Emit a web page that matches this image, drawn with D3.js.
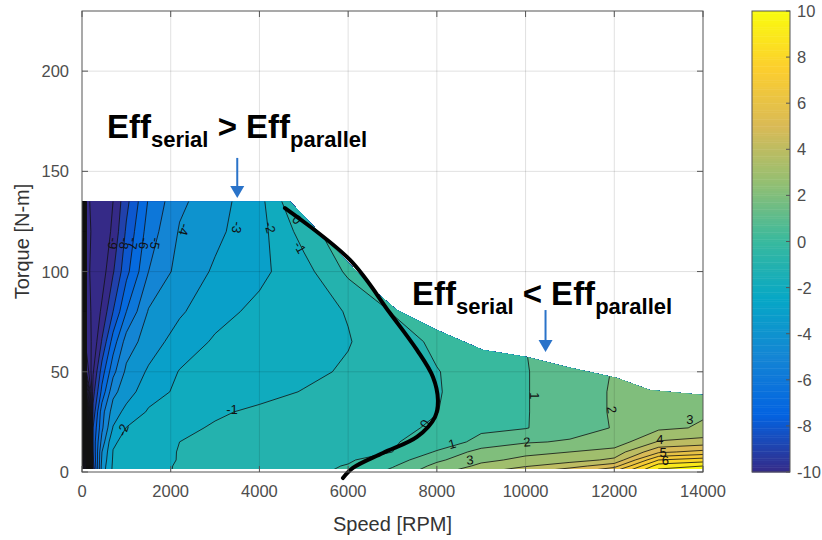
<!DOCTYPE html>
<html lang="en">
<head>
<meta charset="UTF-8" />
<script src="https://d3js.org/d3.v7.min.js"></script>
<title>Serial vs parallel efficiency</title>
<style>
  body { margin: 0; background: #fff; }
  text { font-family: "Liberation Sans", Arial, Helvetica, sans-serif; }
</style>
</head>
<body>
<script>
// grid: speed columns, torque rows, efficiency difference (serial - parallel, %)
var speeds = [0, 100, 250, 450, 700, 1000, 1500, 2200, 3000, 4000, 5000, 6000, 7000, 8000, 9000, 10000, 11000, 12000, 13000, 14000, 15000];
var torques = [0, 3, 6, 10, 15, 22, 30, 40, 50, 65, 80, 100, 120, 135, 150];
var effDiff = [
  [-50, -42, -9.0, -3.5, -1.8, -1.6, -1.3, -0.9, -0.65, -0.4, -0.2, 0.15, 1.3, 2.7, 3.9, 4.9, 5.8, 7.2, 10.5, 11.0, 11.0],
  [-50, -40, -8.5, -3.6, -1.85, -1.7, -1.35, -0.9, -0.7, -0.45, -0.25, 0.05, 0.9, 2.3, 3.2, 3.9, 4.6, 5.6, 9.5, 10.0, 10.0],
  [-50, -38, -8.2, -3.8, -1.9, -1.75, -1.4, -0.95, -0.75, -0.5, -0.3, -0.1, 0.5, 1.8, 2.8, 3.2, 3.6, 4.2, 8.0, 8.5, 8.5],
  [-50, -35, -8.0, -4.0, -1.97, -1.76, -1.45, -0.95, -0.8, -0.6, -0.4, -0.2, 0.0, 1.1, 2.4, 2.8, 3.0, 3.4, 5.8, 6.3, 6.3],
  [-50, -30, -7.8, -4.6, -2.1, -1.8, -1.47, -1.0, -0.85, -0.65, -0.46, -0.27, -0.08, 0.4, 1.3, 1.9, 2.1, 2.4, 4.1, 4.4, 4.4],
  [-50, -28, -8.0, -5.2, -2.93, -1.97, -1.65, -1.2, -0.91, -0.72, -0.54, -0.35, -0.17, 0.1, 0.8, 0.95, 1.6, 2.05, 2.8, 3.1, 3.1],
  [-50, -24, -8.7, -5.4, -3.53, -2.68, -1.9, -1.53, -1.12, -0.84, -0.64, -0.43, -0.23, -0.02, 0.5, 0.95, 1.5, 2.1, 2.6, 2.9, 2.9],
  [-50, -18, -9.4, -6.7, -4.27, -3.48, -2.37, -1.83, -1.58, -1.27, -0.96, -0.66, -0.37, -0.07, 0.5, 0.95, 1.5, 2.1, 2.5, 2.7, 2.7],
  [-50, -13, -10.1, -7.5, -5.3, -3.78, -2.86, -1.95, -1.73, -1.47, -1.2, -0.89, -0.47, -0.04, 0.45, 0.95, 1.5, 2.05, 2.4, 2.6, 2.6],
  [-50, -11.5, -10.8, -8.9, -6.55, -4.55, -3.5, -2.54, -1.88, -1.6, -1.33, -1.05, -0.47, 0.2, 0.6, 1.0, 1.6, 2.1, 2.4, 2.6, 2.6],
  [-50, -11.2, -10.9, -9.8, -8.0, -6.0, -3.91, -3.14, -2.33, -1.75, -1.37, -0.95, 0.05, 0.6, 1.0, 1.3, 1.8, 2.2, 2.5, 2.7, 2.7],
  [-50, -11.2, -10.8, -10.5, -9.1, -7.3, -5.0, -3.63, -2.87, -2.23, -1.38, 0.2, 0.8, 1.0, 1.2, 1.5, 1.9, 2.3, 2.6, 2.8, 2.8],
  [-50, -11.2, -10.9, -10.7, -9.8, -7.84, -5.54, -3.91, -3.22, -2.35, -0.6, 1.0, 1.3, 1.4, 1.5, 1.7, 2.0, 2.4, 2.7, 2.9, 2.9],
  [-50, -11.2, -10.8, -10.5, -10, -8.3, -5.9, -4.2, -3.42, -2.32, 0.3, 1.2, 1.5, 1.5, 1.6, 1.8, 2.1, 2.5, 2.8, 3.0, 3.0],
  [-50, -11.2, -10.8, -10.5, -10, -8.3, -5.9, -4.2, -3.42, -2.32, 0.3, 1.2, 1.5, 1.5, 1.6, 1.8, 2.1, 2.5, 2.8, 3.0, 3.0]
];

// max torque envelope of the map
var envSpeed = [0, 4690, 6650, 7100, 8000, 9040, 10030, 10930, 12060, 12800, 14000];
var envTorque = [135, 135, 89.3, 80.8, 70.9, 60.9, 57.4, 52.4, 46.9, 40.9, 38.4];
var minTorque = 1.5;

// thick boundary curve (eff serial = eff parallel)
var curveSpeed = [4576, 6041, 6942, 7551, 7912, 8024, 7957, 7551, 6785, 6108, 5883];
var curveTorque = [131.7, 105.8, 79.3, 60.9, 47.4, 35.9, 27.4, 17.5, 9.5, 2.0, -3];

var levels = d3.range(-60, 12, 1);
var xTicks = d3.range(0, 14001, 2000);
var yTicks = d3.range(0, 201, 50);
var cbTicks = d3.range(-10, 11, 2);
var parulaStops = ["#352a87", "#0363e1", "#1485d4", "#06a7c6", "#38b99e", "#92bf73", "#d9ba56", "#fcce2e", "#f9fb0e"];

// inline contour labels
var labelText   = ["-9", "-8", "-7", "-6", "-5", "-4", "-3", "-2", "0", "-1", "-1", "-2", "0", "1", "3", "2", "1", "2", "3", "4", "5", "6"];
var labelSpeed  = [700, 950, 1150, 1400, 1650, 2300, 3494, 4240, 4846, 4914, 3381, 924, 7731, 8340, 8746, 10030, 10210, 11946, 13705, 13028, 13100, 13150];
var labelTorque = [114, 114, 114, 114, 114, 121, 122, 122, 126, 112, 31, 21, 24, 14, 6, 15, 38, 31, 26, 16, 10, 6];
var labelAngle  = [100, 100, 100, 100, 100, 105, 100, 75, 45, 60, 0, -70, -60, -15, -5, -5, 90, 80, 0, 0, 0, 0];

// annotations
var noteRel = [">", "<"];
var noteSpeed = [563, 7440];
var noteTorque = [166.7, 83.3];
var arrowSpeed = [3500, 10450];
var arrowFrom = [156.7, 80.8];
var arrowTo = [136.7, 59.9];

var W = 822, H = 540;
var svg = d3.select("body").append("svg").attr("width", W).attr("height", H);

var x = d3.scaleLinear().domain([0, 14000]).range([82, 703]);
var y = d3.scaleLinear().domain([0, 230]).range([472, 11]);
var cbY = d3.scaleLinear().domain([-10, 10]).range([472, 11]);
var parula = d3.scaleLinear()
  .domain(parulaStops.map(function(c, i){ return -10 + 20 * i / (parulaStops.length - 1); }))
  .range(parulaStops).clamp(true);

// contour bands
var nx = speeds.length, ny = torques.length;
var grid = [].concat.apply([], effDiff);
var bands = d3.contours().size([nx, ny]).thresholds(levels)(grid);
var colToSpeed = d3.scaleLinear().domain(d3.range(nx)).range(speeds).clamp(true);
var rowToTorque = d3.scaleLinear().domain(d3.range(ny)).range(torques).clamp(true);
var gridPath = d3.geoPath(d3.geoTransform({
  point: function(px, py) {
    this.stream.point(x(colToSpeed(px - 0.5)), y(rowToTorque(py - 0.5)));
  }
}));

var env = envSpeed.map(function(s, i){ return [s, envTorque[i]]; });
var clipPts = [[0, minTorque]].concat(env, [[14000, minTorque]]);
var lineXY = d3.line().x(function(d){ return x(d[0]); }).y(function(d){ return y(d[1]); });
svg.append("clipPath").attr("id", "envClip").append("path").attr("d", lineXY(clipPts) + "Z");

var gMap = svg.append("g").attr("clip-path", "url(#envClip)");
gMap.selectAll("path.band").data(bands).join("path").attr("class", "band")
  .attr("d", gridPath).attr("fill", function(d){ return parula(d.value); });
gMap.selectAll("path.iso").data(bands.filter(function(d){ return d.value > levels[0]; }))
  .join("path").attr("class", "iso")
  .attr("d", gridPath).attr("fill", "none").attr("stroke", "#111").attr("stroke-width", 0.8);

// grid
var gGrid = svg.append("g").attr("stroke", "#000").attr("stroke-opacity", 0.12);
gGrid.selectAll("line.gx").data(xTicks.slice(1, -1)).join("line").attr("class", "gx")
  .attr("x1", function(d){ return x(d); }).attr("x2", function(d){ return x(d); })
  .attr("y1", y(0)).attr("y2", y(230));
gGrid.selectAll("line.gy").data(yTicks.slice(1)).join("line").attr("class", "gy")
  .attr("y1", function(d){ return y(d); }).attr("y2", function(d){ return y(d); })
  .attr("x1", x(0)).attr("x2", x(14000));

// contour labels
svg.append("g").selectAll("text").data(labelText).join("text")
  .attr("transform", function(d, i){
    return "translate(" + x(labelSpeed[i]) + "," + y(labelTorque[i]) + ") rotate(" + labelAngle[i] + ")";
  })
  .attr("text-anchor", "middle").attr("dy", "0.35em")
  .attr("font-size", 13).attr("fill", "#111").text(function(d){ return d; });

// boundary curve
svg.append("path").datum(curveSpeed.map(function(s, i){ return [s, curveTorque[i]]; }))
  .attr("d", lineXY.curve(d3.curveCatmullRom))
  .attr("fill", "none").attr("stroke", "#000").attr("stroke-width", 4).attr("stroke-linecap", "round");

// axes box and ticks
var axisCol = "#555";
svg.append("rect").attr("x", x(0)).attr("y", y(230)).attr("width", x(14000) - x(0)).attr("height", y(0) - y(230))
  .attr("fill", "none").attr("stroke", axisCol).attr("stroke-width", 1);
var gT = svg.append("g").attr("stroke", axisCol);
xTicks.forEach(function(t){
  gT.append("line").attr("x1", x(t)).attr("x2", x(t)).attr("y1", y(0)).attr("y2", y(0) - 6);
  gT.append("line").attr("x1", x(t)).attr("x2", x(t)).attr("y1", y(230)).attr("y2", y(230) + 6);
});
yTicks.forEach(function(t){
  gT.append("line").attr("y1", y(t)).attr("y2", y(t)).attr("x1", x(0)).attr("x2", x(0) + 6);
  gT.append("line").attr("y1", y(t)).attr("y2", y(t)).attr("x1", x(14000)).attr("x2", x(14000) - 6);
});
svg.append("g").selectAll("text").data(xTicks).join("text")
  .attr("x", function(d){ return x(d); }).attr("y", 497).attr("text-anchor", "middle")
  .attr("font-size", 16.5).attr("fill", "#4d4d4d").text(function(d){ return d; });
svg.append("g").selectAll("text").data(yTicks).join("text")
  .attr("x", 69).attr("y", function(d){ return y(d) + 6; }).attr("text-anchor", "end")
  .attr("font-size", 16.5).attr("fill", "#4d4d4d").text(function(d){ return d; });
svg.append("text").attr("x", (x(0) + x(14000)) / 2).attr("y", 531).attr("text-anchor", "middle")
  .attr("font-size", 20).attr("fill", "#333").text("Speed [RPM]");
svg.append("text").attr("transform", "translate(29," + ((y(0) + y(230)) / 2) + ") rotate(-90)")
  .attr("text-anchor", "middle").attr("font-size", 20).attr("fill", "#333").text("Torque [N-m]");

// colorbar
var cbSteps = d3.range(-10, 10, 0.1);
svg.append("g").selectAll("rect").data(cbSteps).join("rect")
  .attr("x", 752).attr("width", 38)
  .attr("y", function(d){ return cbY(d + 0.1); }).attr("height", cbY(-10) - cbY(-9.88))
  .attr("fill", function(d){ return parula(d + 0.05); });
svg.append("rect").attr("x", 752).attr("y", cbY(10)).attr("width", 38).attr("height", cbY(-10) - cbY(10))
  .attr("fill", "none").attr("stroke", axisCol);
svg.append("g").attr("stroke", axisCol).selectAll("line").data(cbTicks).join("line")
  .attr("x1", 786).attr("x2", 790).attr("y1", function(d){ return cbY(d); }).attr("y2", function(d){ return cbY(d); });
svg.append("g").selectAll("text").data(cbTicks).join("text")
  .attr("x", 797).attr("y", function(d){ return cbY(d) + 6; })
  .attr("font-size", 16.5).attr("fill", "#4d4d4d").text(function(d){ return d; });

// annotations
var blue = "#2a73c9";
noteRel.forEach(function(rel, i){
  var t = svg.append("text").attr("x", x(noteSpeed[i])).attr("y", y(noteTorque[i]))
    .attr("font-weight", "bold").attr("font-size", 33).attr("fill", "#000").style("white-space", "pre");
  t.append("tspan").text("Eff");
  t.append("tspan").attr("font-size", 22).attr("dy", 9).text("serial");
  t.append("tspan").attr("dy", -9).text(" " + rel + " Eff");
  t.append("tspan").attr("font-size", 22).attr("dy", 9).text("parallel");

  var ax = x(arrowSpeed[i]), y0 = y(arrowFrom[i]), y1 = y(arrowTo[i]);
  svg.append("line").attr("x1", ax).attr("x2", ax).attr("y1", y0).attr("y2", y1 - 10)
    .attr("stroke", blue).attr("stroke-width", 2);
  svg.append("path").attr("d", "M" + (ax - 7) + "," + (y1 - 12) + "L" + (ax + 7) + "," + (y1 - 12) + "L" + ax + "," + y1 + "Z")
    .attr("fill", blue);
});
</script>
</body>
</html>
